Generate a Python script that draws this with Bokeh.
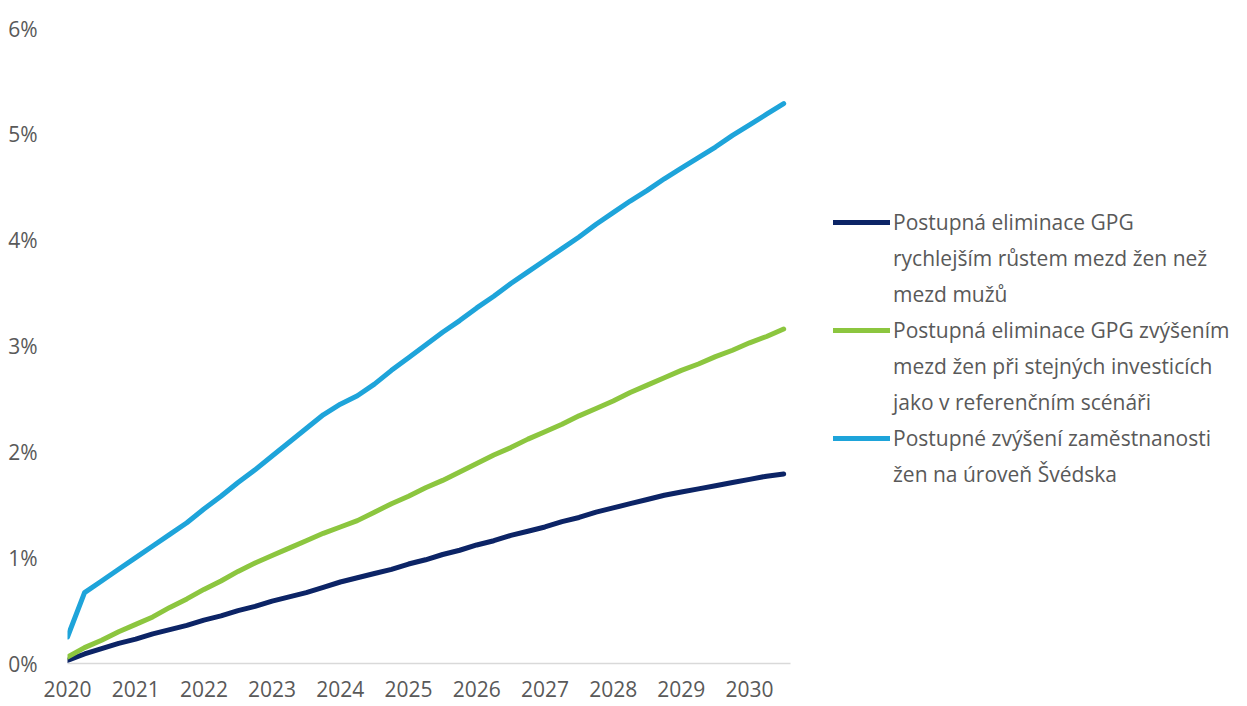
from bokeh.plotting import figure
from bokeh.models import Legend, LegendItem, Range1d, FixedTicker, CustomJSTickFormatter
from bokeh.embed import file_html
from bokeh.resources import INLINE

# Quarterly data 2020Q1 .. 2030Q3
quarters = [2020 + i / 4 for i in range(43)]

gpg_faster_wages = [0.03, 0.09, 0.14, 0.19, 0.23, 0.28, 0.32, 0.36, 0.41, 0.45,
                    0.50, 0.54, 0.59, 0.63, 0.67, 0.72, 0.77, 0.81, 0.85, 0.89,
                    0.94, 0.98, 1.03, 1.07, 1.12, 1.16, 1.21, 1.25, 1.29, 1.34,
                    1.38, 1.43, 1.47, 1.51, 1.55, 1.59, 1.62, 1.65, 1.68, 1.71,
                    1.74, 1.77, 1.79]
gpg_same_invest = [0.06, 0.15, 0.22, 0.30, 0.37, 0.44, 0.53, 0.61, 0.70, 0.78,
                   0.87, 0.95, 1.02, 1.09, 1.16, 1.23, 1.29, 1.35, 1.43, 1.51,
                   1.58, 1.66, 1.73, 1.81, 1.89, 1.97, 2.04, 2.12, 2.19, 2.26,
                   2.34, 2.41, 2.48, 2.56, 2.63, 2.70, 2.77, 2.83, 2.90, 2.96,
                   3.03, 3.09, 3.16]
employment_sweden = [0.25, 0.67, 0.78, 0.89, 1.00, 1.11, 1.22, 1.33, 1.46, 1.58,
                     1.71, 1.83, 1.96, 2.09, 2.22, 2.35, 2.45, 2.53, 2.64, 2.77,
                     2.89, 3.01, 3.13, 3.24, 3.36, 3.47, 3.59, 3.70, 3.81, 3.92,
                     4.03, 4.15, 4.26, 4.37, 4.47, 4.58, 4.68, 4.78, 4.88, 4.99,
                     5.09, 5.19, 5.29]

year_ticks = [2020, 2021, 2022, 2023, 2024, 2025, 2026, 2027, 2028, 2029, 2030]
pct_ticks = [0, 1, 2, 3, 4, 5, 6]

# legend text, one list of wrapped lines per series
label_lines = [
    ["Postupná eliminace GPG", "rychlejším růstem mezd žen než", "mezd mužů"],
    ["Postupná eliminace GPG zvýšením", "mezd žen při stejných investicích", "jako v referenčním scénáři"],
    ["Postupné zvýšení zaměstnanosti", "žen na úroveň Švédska"],
]
colors = ["#0c2466", "#8cc63f", "#1ea4da"]
series = [gpg_faster_wages, gpg_same_invest, employment_sweden]

FONT = "Open Sans"
TXT = "#595959"

p = figure(frame_width=723, frame_height=635, output_backend="svg", toolbar_location=None,
           x_range=Range1d(2020, 2030.6), y_range=Range1d(0, 6),
           min_border_left=67, min_border_top=28, min_border_bottom=42, min_border_right=0)
p.outline_line_color = None
p.background_fill_color = "white"
p.border_fill_color = "white"
p.xgrid.visible = False
p.ygrid.visible = False

renderers = []
for vals, c in zip(series, colors):
    r = p.line(quarters, vals, line_color=c, line_width=5, line_join="round", line_cap="round")
    renderers.append(r)

# invisible placeholder used for continuation lines of the legend text
blank = p.line([], [], line_alpha=0)

items = []
for lines, r in zip(label_lines, renderers):
    items.append(LegendItem(label=lines[0], renderers=[r]))
    for extra in lines[1:]:
        items.append(LegendItem(label=extra, renderers=[blank]))

xa = p.xaxis[0]
xa.ticker = FixedTicker(ticks=year_ticks)
xa.axis_line_color = "#d9d9d9"
xa.axis_line_width = 1.5
xa.major_tick_line_color = None
xa.minor_tick_line_color = None
xa.major_label_text_font = FONT
xa.major_label_text_font_size = "21px"
xa.major_label_text_color = TXT
xa.major_label_standoff = 11

ya = p.yaxis[0]
ya.ticker = FixedTicker(ticks=pct_ticks)
ya.formatter = CustomJSTickFormatter(code="return tick.toFixed(0) + '%';")
ya.axis_line_color = None
ya.major_tick_line_color = None
ya.minor_tick_line_color = None
ya.major_label_text_font = FONT
ya.major_label_text_font_size = "21px"
ya.major_label_text_color = TXT
ya.major_label_standoff = 24

legend = Legend(items=items, location=(43, 171))
legend.label_text_font = FONT
legend.label_text_font_size = "21px"
legend.label_text_color = TXT
legend.glyph_width = 57
legend.glyph_height = 36
legend.label_height = 36
legend.label_standoff = 3
legend.spacing = 0
legend.padding = 0
legend.margin = 0
legend.border_line_color = None
legend.background_fill_alpha = 0
p.add_layout(legend, "right")

open("out.html", "w").write(file_html(p, INLINE))
